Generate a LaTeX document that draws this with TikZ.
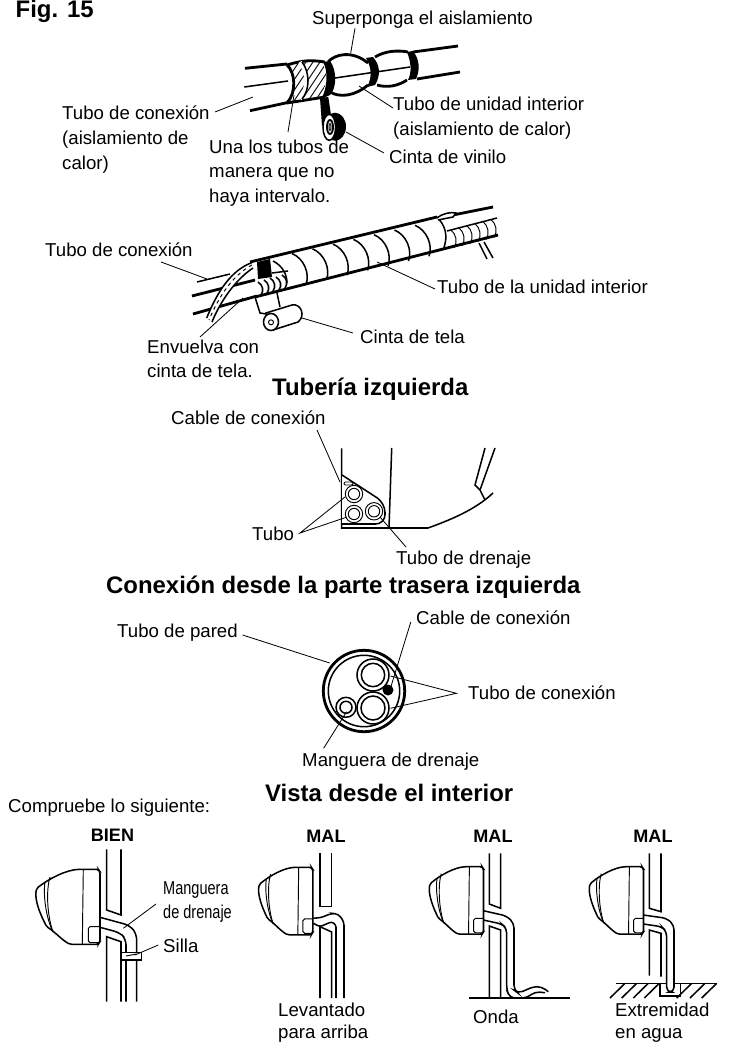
\documentclass[tikz,border=0pt]{standalone}
\usepackage{fontspec}
\setmainfont{Liberation Sans}
\tikzset{
  label/.style={inner sep=0, anchor=west, align=left, font=\fontsize{15.9}{21}\selectfont},
  heading/.style={inner sep=0, font=\bfseries\fontsize{20.4}{24}\selectfont},
  verdict/.style={inner sep=0, font=\bfseries\fontsize{15.4}{18}\selectfont},
  pipeline/.style={line width=2.4pt},
  midline/.style={line width=1.3pt},
  thinline/.style={line width=0.8pt},
  leader/.style={line width=0.7pt},
  unitbody/.pic={
    \draw [midline, rounded corners=1.5] (98.3,869.3) -- (80,869.3) .. controls (66,870) and (50,878) .. (36.7,888.3) .. controls (35,896) and (36,906) .. (46.7,926.7) .. controls (55,932) and (62,940) .. (70,944.3) -- (98.3,944.3) -- (100,941.7) -- (100,871.7) -- cycle;
    \draw [thinline] (83.3,869.3) -- (82.3,944.3);
    \draw [thinline] (50,877) .. controls (46,890) and (47,915) .. (53,932);
    \draw [thinline] (45,882) .. controls (43,895) and (46,918) .. (53,932);
    \draw [thinline, rounded corners=1.5] (100,926.7) -- (88.3,926.7) -- (88.3,942.7) -- (99,942.7);
  }
}
\begin{document}
\begin{tikzpicture}[x=0.03cm, y=-0.03cm]
  \useasboundingbox (0,0) rectangle (728,1042);
  % overlap of the insulation
  \node [heading, anchor=base west] (figno) at (15.5,17.5) {Fig. 15};
  \draw [pipeline] (245,68.3) -- (287,64);
  \draw [midline] (244.3,87) -- (288,81);
  \draw [pipeline] (250,110.7) -- (287,102.7);
  \draw [pipeline] (413,52) -- (458,46);
  \draw [midline] (335,78) -- (410,67);
  \draw [pipeline] (417,79) -- (460,72);
  %
  \begin{scope}
    \clip (287,65) .. controls (295,72) and (297,92) .. (287,103) -- (322,98) -- (327,78) -- (323,62) .. controls (312,60) and (305,59) .. (287,65);
    \foreach \h in {260,267,...,340}
      \draw [thinline] (\h,110) -- ({\h+40},50);
  \end{scope}
  \draw [pipeline] (287,65) .. controls (295,72) and (297,92) .. (287,103);
  \draw [pipeline] (287,65) .. controls (303,60) and (312,60) .. (325,62);
  \draw [pipeline] (287,103) -- (325,97);
  \draw [line width=3.2pt, color=white] (300,62) .. controls (308,72) and (308,90) .. (300,99);
  \draw [midline] (302,62) .. controls (310,72) and (310,90) .. (302,99);
  % black bands
  \fill (323,62) .. controls (328,70) and (328,88) .. (321,99) -- (330,95) .. controls (337,88) and (337,70) .. (330,61) -- cycle;
  \fill (366,58) .. controls (372,68) and (372,78) .. (367,87) -- (375,85) .. controls (381,75) and (380,65) .. (373,57) -- cycle;
  \fill (407,52) .. controls (411,62) and (412,72) .. (408,80) -- (416,79) .. controls (420,70) and (420,60) .. (413,51) -- cycle;
  % bulges
  \draw [pipeline] (328,62) .. controls (335,54) and (352,50) .. (368,63);
  \draw [pipeline] (330,92) .. controls (340,98) and (355,96) .. (368,85);
  \draw [pipeline] (375,57) .. controls (385,51) and (397,50) .. (408,52);
  \draw [pipeline] (377,85) .. controls (387,88) and (398,86) .. (407,80);
  % tape and roll
  \fill (320,98) -- (328.3,97) -- (331,115) -- (322,126) -- cycle;
  \fill (335,126.7) ellipse (11 and 14);
  \draw [midline, fill=white] (329.3,127.3) ellipse (6.3 and 13);
  \draw [line width=1.6pt, fill=white] (330,127) ellipse (3 and 7);
  \draw [thinline] (330,127) ellipse (1 and 3.5);
  % labels of the first drawing
  \node [label] (overlap) at (312,19.5) {Superponga el aislamiento};
  \node [label] (connpipe) at (62,139.5) {Tubo de conexión\\(aislamiento de\\calor)};
  \node [label] (joinpipes) at (209,173) {Una los tubos de\\manera que no\\haya intervalo.};
  \node [label] (indoorpipe) at (393,118) {Tubo de unidad interior\\(aislamiento de calor)};
  \node [label] (vinyltape) at (389,157) {Cinta de vinilo};
  \coordinate (connpipestart) at (215,112);
  \coordinate (connpipetip) at (253,97);
  \coordinate (jointip) at (294,95);
  \coordinate (joinstart) at (288,132);
  \coordinate (overlaptip) at (350.7,53);
  \coordinate (overlapstart) at (355,28.3);
  \coordinate (indoorstart) at (393,108);
  \coordinate (indoortip) at (359,86);
  \coordinate (rolltip) at (346,132);
  \coordinate (rollstart) at (384,153);
  \draw [leader] (overlapstart) -- (overlaptip);
  \draw [leader] (connpipestart) -- (connpipetip);
  \draw [leader] (joinstart) -- (jointip);
  \draw [leader] (indoorstart) -- (indoortip);
  \draw [leader] (rollstart) -- (rolltip);
  % wrapped pipe
  \draw [midline] (197,282) -- (230,274);
  \draw [pipeline] (192,296) -- (255,280);
  \draw [pipeline] (193,314) -- (257,296);
  \draw [pipeline] (250,262) -- (437,217);
  \draw [pipeline] (255,297) -- (498,235);
  \draw [pipeline] (453,215) -- (493,207);
  \draw [midline] (447,231) -- (497,218);
  \foreach \i in {0,...,6}
    \draw [midline] ({292+20.5*\i},{253.5-4.7*\i}) .. controls ({304+20.5*\i},{258.5-4.7*\i}) and ({310+20.5*\i},{273.5-4.7*\i}) .. ({306+20.5*\i},{284.5-4.7*\i});
  \draw [midline] (437,217) .. controls (445,225) and (449,236) .. (443,250);
  \foreach \i in {0,...,5}
    \draw [thinline] ({451+8*\i},{230-2.1*\i}) .. controls ({456+8*\i},{234-2.1*\i}) and ({458+8*\i},{242-2.1*\i}) .. ({454+8*\i},{248-2.1*\i});
  \draw [midline, fill=white] (437,218) .. controls (443,213) and (452,212) .. (456,213) -- (453,217) -- (438,220);
  \draw [midline] (479,243) -- (487,259);
  \draw [midline] (484,242) -- (493,258);
  % black patch and coils
  \fill (257,262) -- (270,259) -- (272,277) -- (258,279) -- cycle;
  \draw [midline] (273,261) .. controls (283,266) and (287,275) .. (287,283);
  \draw [midline] (272,273) -- (288,271);
  \foreach \x/\y in {258/282,264/280,270/278,276/277,282/275}
    \draw [midline] (\x,\y) .. controls ({\x+5},{\y+3}) and ({\x+6},{\y+9}) .. ({\x+3},{\y+13});
  % sleeve and roll
  \fill [color=white] (251.7,262.7) .. controls (232,270) and (218,290) .. (206.7,318) -- (212,322) .. controls (220,302) and (235,280) .. (253,268) -- cycle;
  \draw [midline] (251.7,262.7) .. controls (232,270) and (218,290) .. (206.7,318);
  \draw [midline] (253,268) .. controls (235,280) and (220,302) .. (212,322);
  \draw [thinline, dashed] (252,265) .. controls (233,275) and (219,296) .. (209,320);
  \draw [midline] (255,297) -- (260,313) -- (266,314);
  \draw [midline] (277,293) -- (280,307);
  \draw [midline, fill=white] (266,313) -- (292,305) .. controls (301,303) and (306,316) .. (298,322) -- (273,330) -- cycle;
  \draw [midline, fill=white] (271,322) ellipse (7.5 and 8.5);
  \draw [thinline] (271,322.3) circle (2.5);
  % labels of the second drawing
  \node [label] (connpipetwo) at (45,250) {Tubo de conexión};
  \node [label] (indoorpipetwo) at (437,287) {Tubo de la unidad interior};
  \node [label] (clothtape) at (360,337) {Cinta de tela};
  \node [label] (wraptape) at (147,359) {Envuelva con\\cinta de tela.};
  \coordinate (connpipetwostart) at (161,262);
  \coordinate (connpipetwotip) at (207,279);
  \coordinate (indoortwostart) at (435,289);
  \coordinate (indoortwotip) at (377,262);
  \coordinate (clothtip) at (302,318);
  \coordinate (clothstart) at (353,333);
  \coordinate (wraptip) at (243,298);
  \coordinate (wrapstart) at (200,337);
  \draw [leader] (connpipetwostart) -- (connpipetwotip);
  \draw [leader] (indoortwostart) -- (indoortwotip);
  \draw [leader] (clothstart) -- (clothtip);
  \draw [leader] (wrapstart) -- (wraptip);
  \node [heading, anchor=west] (leftpiping) at (272,389) {Tubería izquierda};
  % rear left connection
  \draw [midline] (341.7,448.3) -- (341.7,528) -- (428,528) .. controls (450,520) and (475,510) .. (493,493);
  \draw [midline] (391.7,448) -- (389,528);
  \draw [midline] (485,448) -- (475,485) -- (480,490) -- (485,500);
  \draw [midline] (495,448) -- (480,490);
  \draw [midline, rounded corners=8, fill=white] (342,475) -- (385,503) -- (385,524) -- (342,524);
  \foreach \x/\y in {354/494,354/514,374/511.3} {
    \draw [thinline] (\x,\y) circle (8.7);
    \draw [thinline] (\x,\y) circle (5.7);
  }
  \draw [thinline, rounded corners=1] (344,482) rectangle (353,485);
  \node [label] (cablerear) at (171,417.5) {Cable de conexión};
  \node [label] (piperear) at (252,534) {Tubo};
  \node [label] (drainrear) at (396,560) {Tubo de drenaje};
  \coordinate (cableraretip) at (340,482);
  \coordinate (cablerearstart) at (317,430);
  \coordinate (piperearstart) at (300,533);
  \coordinate (pipetipone) at (345,497);
  \coordinate (pipetiptwo) at (347,517);
  \coordinate (drainrearstart) at (406,547);
  \coordinate (drainreartip) at (380,517);
  \draw [leader] (cablerearstart) -- (cableraretip);
  \draw [leader] (pipetipone) -- (piperearstart) -- (pipetiptwo);
  \draw [leader] (drainrearstart) -- (drainreartip);
  \node [heading, anchor=west] (rearleft) at (106,587) {Conexión desde la parte trasera izquierda};
  % view of the wall tube
  \draw [pipeline] (364,691) circle (40.7);
  \draw [midline] (364,691) circle (35.7);
  \foreach \x/\y/\r in {373/675/11.7,373/708/12,346/707.3/6} {
    \draw [midline] (\x,\y) circle (\r);
  }
  \draw [midline] (373,675) circle (16);
  \draw [midline] (373,708) circle (16);
  \draw [midline] (346,707.3) circle (10);
  \fill (388,690) circle (5.5);
  \node [label] (walltube) at (117,633) {Tubo de pared};
  \node [label] (cablewall) at (416,618) {Cable de conexión};
  \node [label] (connwall) at (468,693) {Tubo de conexión};
  \node [label] (drainwall) at (302,762) {Manguera de drenaje};
  \coordinate (walltubestart) at (242.6,635);
  \coordinate (walltubetip) at (329.7,663);
  \coordinate (cablewallstart) at (410.8,622);
  \coordinate (cablewalltip) at (390.5,688);
  \coordinate (connwallstart) at (456.4,693.3);
  \coordinate (connwalltipone) at (390.5,676);
  \coordinate (connwalltiptwo) at (390.5,708.3);
  \coordinate (drainwallstart) at (323.6,748.3);
  \coordinate (drainwalltip) at (346.6,711.7);
  \draw [leader] (walltubestart) -- (walltubetip);
  \draw [leader] (cablewallstart) -- (cablewalltip);
  \draw [leader] (connwalltipone) -- (connwallstart) -- (connwalltiptwo);
  \draw [leader] (drainwallstart) -- (drainwalltip);
  \node [heading, anchor=west] (insideview) at (265,793) {Vista desde el interior};
  \node [label] (check) at (8,808) {Compruebe lo siguiente:};
  % correct hose
  \node [verdict] (good) at (112.5,835) {BIEN};
  \pic at (0,0) {unitbody};
  \draw [midline] (106.7,849.3) -- (106.7,910) -- (121,915) -- (121,849.3);
  \draw [midline] (106.7,1001.7) -- (106.7,936.7) -- (121,941.7) -- (121,1001.7);
  \draw [midline, rounded corners=5] (100,917.3) -- (130,925.5) -- (136.7,934) -- (136.7,1001.7);
  \draw [midline, rounded corners=5] (100,927.3) -- (120,932.7) -- (126,939) -- (126,1001.7);
  \draw [midline, fill=white] (121,952.7) rectangle (141.7,960);
  \draw [thinline] (126,956) -- (136.7,954);
  \node [label, xscale=0.78, anchor=west] (hoselabel) at (163,902) {Manguera\\de drenaje};
  \node [label] (saddle) at (163,946) {Silla};
  \coordinate (hosestart) at (156,904);
  \coordinate (hosetip) at (123.3,928.3);
  \coordinate (saddlestart) at (158.3,945);
  \coordinate (saddletip) at (135,955);
  \draw [leader] (hosestart) -- (hosetip);
  \draw [leader] (saddlestart) -- (saddletip);
  % raised hose
  \node [verdict] (badone) at (326,836) {MAL};
  \pic [xscale=0.845, yscale=0.9] at (228.3,84.9) {unitbody};
  \draw [midline] (320,853.3) -- (320,906.7) -- (331.7,906.7) -- (331.7,853.3);
  \draw [midline] (320,998) -- (320,926.7) -- (331.7,932) -- (331.7,998);
  \draw [midline, rounded corners=3] (313.3,918) -- (320,918) -- (331.7,913.3) -- (338.3,914) -- (344,921.7) -- (344,998);
  \draw [midline, rounded corners=2] (313.3,923.3) -- (320,926.7) -- (331.7,921.7) -- (336,925) -- (336,998);
  \node [label] (raised) at (278,1023) {Levantado\\[-2pt]para arriba};
  % wavy hose
  \node [verdict] (badtwo) at (493,836) {MAL};
  \pic [xscale=0.845, yscale=0.9] at (399,84.3) {unitbody};
  \draw [midline] (489.3,853.3) -- (489.3,904) -- (500.7,908.3) -- (500.7,853.3);
  \draw [midline] (489.3,998) -- (489.3,926) -- (500.7,930) -- (500.7,998);
  \draw [midline, rounded corners=4] (483.3,910.7) -- (506.7,916) -- (514,923.3) -- (514,990) -- (518.3,993.3) -- (533.3,986.7) -- (541.7,986.7) -- (548.3,991.7);
  \draw [midline, rounded corners=4] (483.3,920) -- (501.7,924) -- (506.7,928.3) -- (506.7,990) -- (510,998) -- (526.7,998) -- (535,991.7) -- (545,992.7);
  \draw [midline] (469.3,998) -- (570,998);
  \node [label] (wave) at (473,1017) {Onda};
  % hose end in water
  \node [verdict] (badthree) at (653,836) {MAL};
  \pic [xscale=0.845, yscale=0.9] at (559,84.3) {unitbody};
  \draw [midline] (649.3,853.3) -- (649.3,908.3) -- (661,911.7) -- (661,853.3);
  \draw [midline] (649.3,975.7) -- (649.3,930) -- (661,933.3) -- (661,976.7);
  \draw [midline, rounded corners=4] (643.3,915) -- (666.7,918.3) -- (674,925) -- (674,992) -- (666.7,992) -- (666.7,931.7) -- (661.7,926.7) -- (643.3,924);
  \draw [midline] (616,983.3) -- (666.7,983.3);
  \draw [midline] (674,983.3) -- (716.7,983.3);
  \draw [midline] (660,983.3) -- (660,996) -- (680.7,996) -- (680.7,983.3);
  \foreach \x in {625,636.7,648.3,659.3,691.7,705,716.7}
    \draw [midline] (\x,983.3) -- ({\x-15},998);
  \node [label] (water) at (615,1022.5) {Extremidad\\[-2pt]en agua};
\end{tikzpicture}
\end{document}
